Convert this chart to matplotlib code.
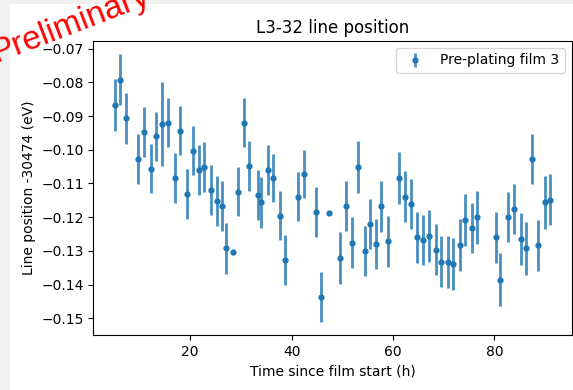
import matplotlib
matplotlib.use("Agg")
import matplotlib.pyplot as plt
from matplotlib.patches import Rectangle

# Time since film start (h)
hours = [5.2, 6.2, 7.4, 9.8, 10.9, 12.2, 13.3, 14.5, 15.7, 17.0, 18.0, 19.3,
         20.5, 21.7, 22.8, 24.2, 25.3, 26.3, 27.1, 28.4, 29.5, 30.7, 31.6,
         33.3, 34.0, 35.3, 36.4, 37.7, 38.8, 41.2, 42.5, 44.8, 45.8, 47.3,
         49.6, 50.7, 51.9, 53.1, 54.4, 55.4, 56.7, 57.6, 59.1, 61.2, 62.3,
         63.6, 64.7, 66.0, 67.1, 68.4, 69.5, 70.8, 71.8, 73.2, 74.3, 75.6,
         76.6, 80.4, 81.1, 82.7, 83.9, 85.2, 86.2, 87.5, 88.6, 89.9, 91.0]

# Line position -30474 (eV)
position = [-0.0867, -0.0792, -0.0907, -0.1028, -0.0947, -0.1056, -0.0960,
            -0.0924, -0.0920, -0.1084, -0.0943, -0.1131, -0.1003, -0.1060,
            -0.1051, -0.1119, -0.1152, -0.1168, -0.1293, -0.1304, -0.1124,
            -0.0920, -0.1048, -0.1135, -0.1156, -0.1060, -0.1084, -0.1196,
            -0.1328, -0.1139, -0.1072, -0.1185, -0.1437, -0.1188, -0.1321,
            -0.1168, -0.1276, -0.1051, -0.1300, -0.1220, -0.1280, -0.1168,
            -0.1272, -0.1084, -0.1139, -0.1160, -0.1260, -0.1268, -0.1256,
            -0.1296, -0.1332, -0.1332, -0.1340, -0.1284, -0.1208, -0.1232,
            -0.1200, -0.1260, -0.1385, -0.1200, -0.1176, -0.1265, -0.1292,
            -0.1028, -0.1284, -0.1156, -0.1148]

# error bar half-lengths (eV)
error = [0.0078, 0.0075, 0.0075, 0.0075, 0.0075, 0.0073, 0.0073, 0.0125,
         0.0073, 0.0075, 0.0073, 0.0075, 0.0073, 0.0074, 0.0073, 0.0074,
         0.0075, 0.0074, 0.0076, 0.0005, 0.0073, 0.0073, 0.0074, 0.0074,
         0.0075, 0.0074, 0.0072, 0.0073, 0.0074, 0.0072, 0.0072, 0.0074,
         0.0073, 0.0005, 0.0076, 0.0074, 0.0075, 0.0076, 0.0074, 0.0074,
         0.0075, 0.0076, 0.0075, 0.0076, 0.0075, 0.0074, 0.0075, 0.0075,
         0.0076, 0.0077, 0.0075, 0.0077, 0.0077, 0.0077, 0.0077, 0.0075,
         0.0079, 0.0076, 0.0079, 0.0075, 0.0075, 0.0077, 0.0079, 0.0075,
         0.0075, 0.0079, 0.0075]

fig = plt.figure(figsize=(5.73, 3.9), dpi=100)

# light grey slide margin on the left and top
fig.patches.append(Rectangle((0, 0), 10 / 573, 1, transform=fig.transFigure,
                             facecolor='#f0f0f0', edgecolor='none', zorder=0))
fig.patches.append(Rectangle((0, 1 - 4 / 390), 1, 4 / 390, transform=fig.transFigure,
                             facecolor='#f0f0f0', edgecolor='none', zorder=0))

ax = fig.add_axes([0.163, 0.141, 0.835, 0.754])
ax.errorbar(hours, position, yerr=error, fmt='.', markersize=7,
            color='#1f77b4', ecolor='#4a8fc1', elinewidth=2,
            label='Pre-plating film 3')
ax.set_title('L3-32 line position')
ax.set_xlabel('Time since film start (h)')
ax.set_ylabel('Line position -30474 (eV)')
ax.legend(loc='upper right')

fig.text(-4 / 573, 1 - 62 / 390, 'Preliminary', color='red', fontsize=24,
         family='Liberation Sans', rotation=21, rotation_mode='anchor',
         ha='left', va='baseline')

fig.savefig('out.png', dpi=100)
